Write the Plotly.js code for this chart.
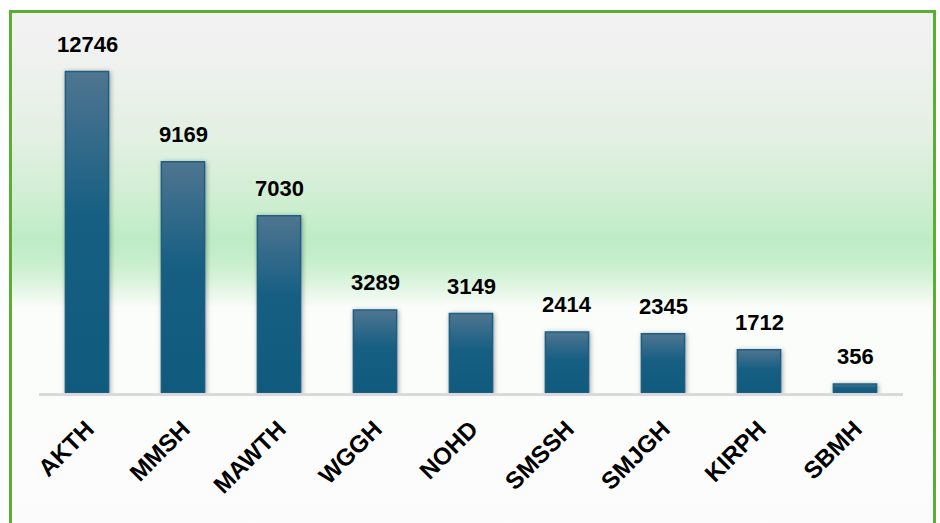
<!DOCTYPE html>
<html>
<head>
<meta charset="utf-8">
<script src="https://cdn.plot.ly/plotly-3.0.1.min.js"></script>
<style>
  html, body { margin: 0; padding: 0; background: #ffffff; }
  #wrap { position: relative; width: 940px; height: 523px; overflow: hidden; background: #ffffff; }
  #bg { position: absolute; left: 10px; top: 11px; width: 923px; height: 530px;
        background: linear-gradient(to bottom, #f2f2f2 0px, #eff1ef 50px, #e2f0e2 130px, #cdeed0 195px, #bdecc4 229px, #c8efcd 252px, #dcf4de 272px, #eef9ef 287px, #fafdfa 296px, #fbfbfb 100%); }
  #border { position: absolute; left: 9px; top: 10px; width: 921px; height: 540px;
        border: 3px solid #5aae34; box-sizing: content-box; pointer-events: none; }
  #chart { position: absolute; left: 0; top: 0; width: 940px; height: 523px; }
</style>
</head>
<body>
<div id="wrap">
  <div id="bg"></div>
  <div id="chart"></div>
  <div id="border"></div>
</div>
<script>
const categories = ["AKTH", "MMSH", "MAWTH", "WGGH", "NOHD", "SMSSH", "SMJGH", "KIRPH", "SBMH"];
const values = [12746, 9169, 7030, 3289, 3149, 2414, 2345, 1712, 356];
const valueLabels = values.map(v => String(v));

const trace = {
  type: "bar",
  x: categories,
  y: values,
  width: 0.45,
  marker: { color: "#125c80", line: { color: "#1b5f87", width: 1.5 } },
  hoverinfo: "x+y"
};

const annotations = categories.map((c, i) => ({
  x: c, y: values[i], xref: "x", yref: "y",
  text: valueLabels[i], showarrow: false,
  yanchor: "bottom", yshift: 13,
  font: { family: "Liberation Sans, Arial, sans-serif", size: 22, color: "#000000", weight: "bold" }
}));

const layout = {
  width: 940, height: 523,
  margin: { l: 39, r: 37, t: 20, b: 130 },
  paper_bgcolor: "rgba(0,0,0,0)",
  plot_bgcolor: "rgba(0,0,0,0)",
  showlegend: false,
  bargap: 0.55,
  xaxis: {
    type: "category",
    showline: true, linecolor: "#d9d9d9", linewidth: 2.5,
    showgrid: false, zeroline: false, ticks: "",
    tickangle: -45,
    ticklabelstandoff: 10,
    tickfont: { family: "Liberation Sans, Arial, sans-serif", size: 24, color: "#000000", weight: "bold" }
  },
  yaxis: {
    range: [0, 14790],
    showgrid: false, zeroline: false, showline: false,
    showticklabels: false, ticks: ""
  },
  annotations: annotations
};

Plotly.newPlot("chart", [trace], layout, { displayModeBar: false, staticPlot: true }).then(gd => {
  const svgNS = "http://www.w3.org/2000/svg";
  const svg = gd.querySelector("svg.main-svg");
  let defs = svg.querySelector("defs");
  if (!defs) { defs = document.createElementNS(svgNS, "defs"); svg.insertBefore(defs, svg.firstChild); }
  const grad = document.createElementNS(svgNS, "linearGradient");
  grad.setAttribute("id", "barGrad");
  grad.setAttribute("x1", "0"); grad.setAttribute("y1", "0");
  grad.setAttribute("x2", "0"); grad.setAttribute("y2", "1");
  [["0", "#4f7590"], ["0.45", "#165f83"], ["1", "#0f5a7d"]].forEach(([o, c]) => {
    const s = document.createElementNS(svgNS, "stop");
    s.setAttribute("offset", o); s.setAttribute("stop-color", c);
    grad.appendChild(s);
  });
  defs.appendChild(grad);
  gd.querySelectorAll(".bars .point path").forEach(p => {
    p.style.fill = "url(#barGrad)";
    p.style.filter = "drop-shadow(1px 1px 2.5px rgba(0,0,0,0.35))";
  });
});
</script>
</body>
</html>
